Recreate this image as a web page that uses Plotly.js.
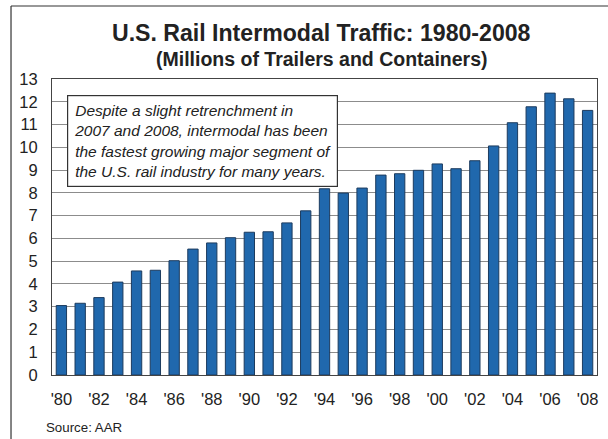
<!DOCTYPE html>
<html>
<head>
<meta charset="utf-8">
<script src="https://cdn.plot.ly/plotly-3.0.1.min.js"></script>
<style>
html,body{margin:0;padding:0;background:#fff;}
#chart{width:608px;height:439px;}
</style>
</head>
<body>
<div id="chart"></div>
<script>
// Data (millions of trailers and containers)
var years = [1980,1981,1982,1983,1984,1985,1986,1987,1988,1989,1990,1991,1992,1993,1994,1995,1996,1997,1998,1999,2000,2001,2002,2003,2004,2005,2006,2007,2008];
var traffic = [3.05,3.15,3.40,4.08,4.57,4.60,5.02,5.53,5.80,6.03,6.27,6.29,6.68,7.21,8.18,7.99,8.21,8.78,8.84,8.99,9.27,9.06,9.41,10.06,11.08,11.78,12.38,12.13,11.62];
var tickYears = [1980,1982,1984,1986,1988,1990,1992,1994,1996,1998,2000,2002,2004,2006,2008];
var tickLabels = ["'80","'82","'84","'86","'88","'90","'92","'94","'96","'98","'00","'02","'04","'06","'08"];
var yTicks = [0,1,2,3,4,5,6,7,8,9,10,11,12,13];

var trace = {
  type: 'bar',
  x: years,
  y: traffic,
  width: 0.55,
  marker: {color: '#2068ad', line: {color: '#1c3b5e', width: 1}},
  hoverinfo: 'x+y'
};

var font = "Liberation Sans, Arial, sans-serif";

var layout = {
  width: 608, height: 439,
  margin: {l: 52, r: 11, t: 79, b: 64, pad: 0},
  paper_bgcolor: '#fff', plot_bgcolor: '#fff',
  showlegend: false,
  font: {family: font, color: '#222'},
  xaxis: {
    range: [1979.5, 2008.5],
    tickvals: tickYears, ticktext: tickLabels,
    tickfont: {size: 16.5, family: font, color: '#222'},
    showgrid: false, zeroline: false,
    showline: true, linecolor: '#444', linewidth: 1, mirror: true,
    ticks: '', ticklabelstandoff: 9
  },
  yaxis: {
    range: [0, 13],
    tickvals: yTicks,
    tickfont: {size: 16.5, family: font, color: '#222'},
    showgrid: true, gridcolor: '#8c8c8c', gridwidth: 1,
    zeroline: false,
    showline: true, linecolor: '#444', linewidth: 1, mirror: true,
    ticks: '', ticklabelstandoff: 10
  },
  annotations: [
    {xref: 'paper', yref: 'paper', x: 0.4945, y: 1.155, xanchor: 'center', yanchor: 'middle',
     text: '<b>U.S. Rail Intermodal Traffic: 1980-2008</b>', showarrow: false,
     font: {size: 23.1, family: font, color: '#222'}},
    {xref: 'paper', yref: 'paper', x: 0.4945, y: 1.068, xanchor: 'center', yanchor: 'middle',
     text: '<b>(Millions of Trailers and Containers)</b>', showarrow: false,
     font: {size: 19.5, family: font, color: '#222'}},
    {xref: 'paper', yref: 'paper', x: 0.0275, y: 0.946, xanchor: 'left', yanchor: 'top',
     text: '<i>Despite a slight retrenchment in<br>2007 and 2008, intermodal has been<br>the fastest growing major segment of<br>the U.S. rail industry for many years.</i>',
     showarrow: false, align: 'left', bgcolor: '#fff', bordercolor: '#333', borderwidth: 1.2,
     borderpad: 6, font: {size: 15.5, family: font, color: '#222'}},
    {xref: 'paper', yref: 'paper', x: -0.014, y: -0.179, xanchor: 'left', yanchor: 'middle',
     text: 'Source: AAR', showarrow: false, font: {size: 13.3, family: font, color: '#222'}}
  ],
  shapes: [
    {type: 'line', xref: 'paper', yref: 'paper', x0: -0.0752, x1: 1.03, y0: 1.2466, y1: 1.2466,
     line: {color: '#333', width: 1.2}},
    {type: 'line', xref: 'paper', yref: 'paper', x0: -0.0752, x1: -0.0752, y0: 1.2466, y1: -0.25,
     line: {color: '#333', width: 1.2}}
  ]
};

Plotly.newPlot('chart', [trace], layout, {displayModeBar: false, staticPlot: true});
</script>
</body>
</html>
